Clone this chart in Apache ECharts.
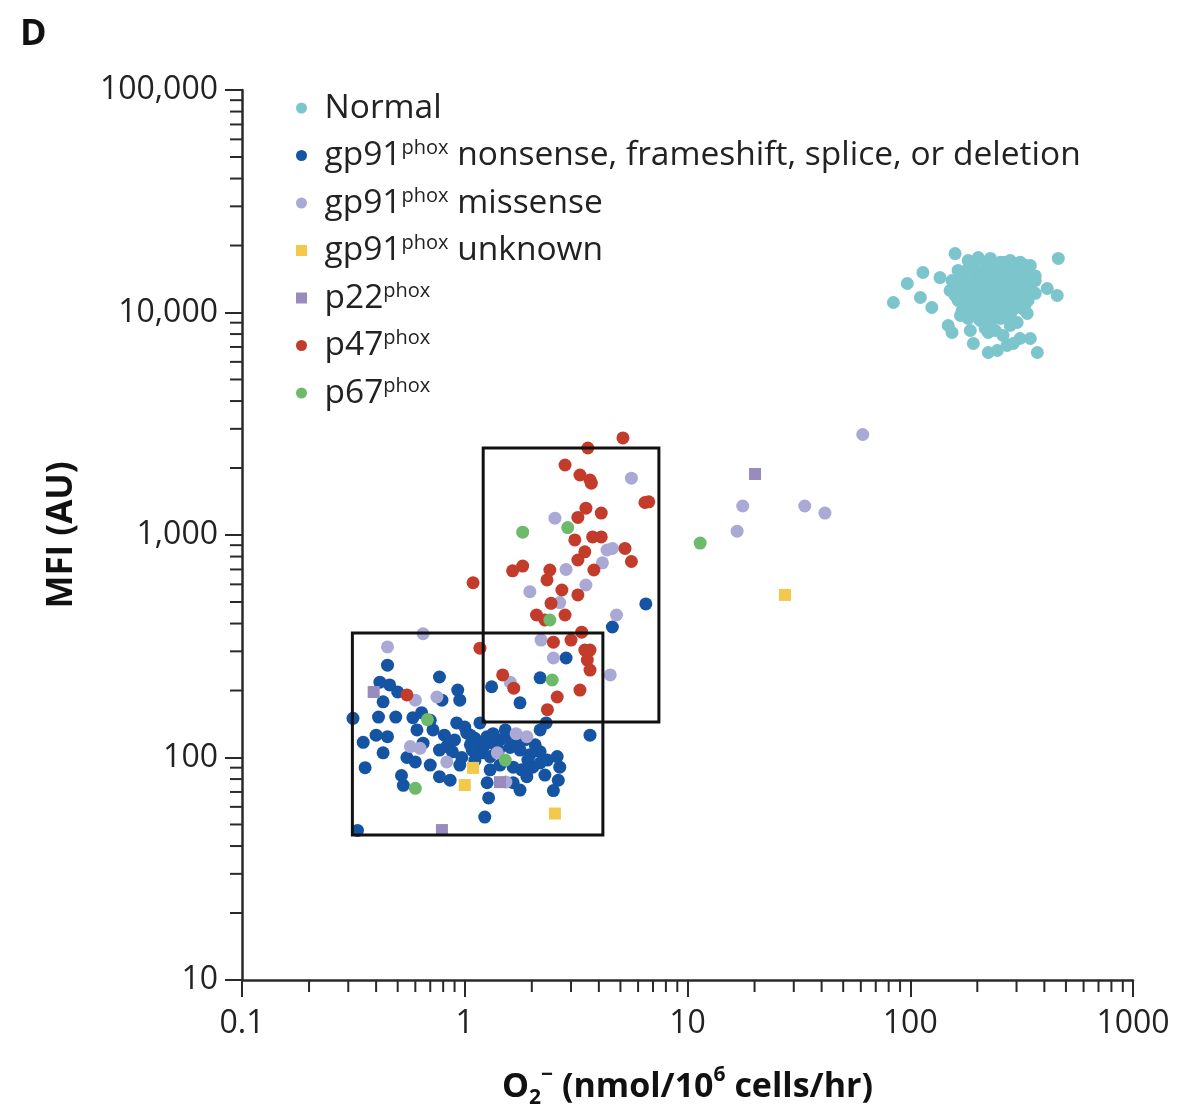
<!DOCTYPE html>
<html>
<head>
<meta charset="utf-8">
<script src="https://cdn.jsdelivr.net/npm/echarts@6/dist/echarts.min.js"></script>
<style>
html,body{margin:0;padding:0;background:#fff;}
#chart{width:1179px;height:1115px;}
</style>
</head>
<body>
<div id="chart"></div>
<script>
// ---------------- data (x = O2- nmol/10^6 cells/hr, y = MFI AU) ----------------
const normalData = [
  [182,17130],[202,17670],[229,17500],[254,16800],[281,17130],[312,16800],[346,16260],
  [164,15450],[182,15770],[206,15130],[229,15770],[254,15450],[281,15770],[312,15130],[346,14660],
  [154,13920],[171,14360],[192,13920],[217,14210],[241,13500],[267,14210],[296,13920],[328,13500],[364,13920],
  [151,12560],[168,12300],[186,12820],[206,12560],[229,12300],[254,12820],[281,12560],[312,12300],[346,12560],
  [164,11320],[182,11090],[202,11560],[224,11320],[248,11090],[275,11560],[305,11090],[338,11320],
  [171,10210],[190,10420],[210,10210],[233,10000],[259,10420],[287,10210],[318,10420],
  [182,9398],[206,9205],[229,9017],[254,9398],[281,9694],
  [217,8475],[241,8300],
  [192,16500],[217,16700],[241,16400],[267,16800],[296,16500],[328,16300],
  [173,14970],[196,15100],[217,14800],[241,15000],[267,14900],[296,15200],[328,14800],[364,14600],
  [162,13360],[180,13200],[202,13500],[229,13300],[254,13400],[281,13200],[312,13450],[346,13250],
  [159,11920],[177,12050],[196,11800],[217,11950],[241,12100],[267,11850],[296,12000],[328,11900],[364,12200],
  [177,10750],[196,10600],[217,10900],[241,10700],[267,10800],[296,10650],[328,10850],
  [196,9694],[217,9600],[241,9800],[267,9550],
  [159,18400],[114,15130],[136,14360],[97,13500],[84,11090],[111,11680],[125,10530],
  [462,17500],[412,12820],[457,11920],[335,9897],[148,8740],[154,8130],[186,8300],
  [224,8130],[192,7256],[224,6610],[246,6750],[281,8740],[302,9017],[261,7880],
  [272,7108],[290,7256],[311,7640],[346,7640],[372,6610],[168,9694]
];
const gp91NonsenseData = [
  [0.45,260],[0.416,218],[0.46,212],[0.50,197],[0.77,230],[0.79,181],[0.93,201],[0.95,181],
  [0.43,178],[0.315,150],[0.41,152],[0.585,151],[0.64,159],[0.70,147],[0.72,133],[0.92,143],
  [1.0,137],[1.02,129],[1.17,143],[0.40,126],[0.45,124],[0.43,105],[0.357,90],[0.65,116],
  [0.55,100],[0.60,95.5],[0.77,108],[0.83,112],[0.88,106],[0.97,100],[1.17,116],[1.26,124],
  [1.34,128],[1.44,120],[1.53,124],[1.6,111],[1.2,105],[1.3,101],[2.18,133],[2.32,143],
  [1.77,176],[1.32,208],[1.65,90.5],[1.8,88],[1.9,82],[2.02,90.5],[2.18,94.5],[2.18,106],
  [2.6,101],[2.67,90.5],[2.63,79],[2.5,71],[3.65,126],[0.77,82],[0.86,79],[0.52,83],
  [0.53,75],[1.26,77],[1.28,65.8],[1.65,77],[1.23,54],[0.33,47],[2.18,228],[2.85,280],
  [4.6,386],[6.5,490],[1.06,114],[1.11,122],[1.37,114],[1.77,108],[1.86,120],[1.96,103],
  [1.44,92.5],[0.95,92.5],[1.11,97],[0.70,92.5],[2.29,83.4],[1.77,71.4],
  [1.08,108],[1.23,114],[1.42,108],[1.52,133],[1.68,114],[1.92,97.4],[1.3,88],[1.06,126],
  [0.9,120],[0.81,126],[2.07,114],[2.35,97.4],[0.61,133],[0.49,152],[0.35,117]
];
const gp91MissenseData = [
  [0.45,314],[0.60,181],[0.75,187],[0.57,112],[0.63,110],[0.83,95.5],[1.4,105],[1.7,128],
  [1.9,124],[1.53,77.6],[0.65,360],[1.6,218],[4.5,235],[5.6,1800],[2.54,1190],[4.35,856],
  [4.6,870],[4.15,750],[2.85,700],[3.5,596],[1.96,556],[2.67,497],[4.8,437],[2.2,337],
  [2.5,280],[61.2,2830],[17.7,1350],[33.6,1350],[41.4,1255],[16.7,1040]
];
const gp91UnknownData = [[1.09,89.8],[1.0,75.2],[2.54,56],[27.4,538]];
const p22Data = [[0.39,197],[1.44,77.5],[0.79,47.2],[20.1,1880]];
const p47Data = [
  [0.55,191],[1.17,310],[1.48,235],[1.66,205],[3.29,201],[2.6,187],[2.35,164],
  [3.35,366],[2.5,330],[3.0,337],[3.46,304],[3.65,304],[3.55,274],[3.65,247],
  [5.13,2730],[3.57,2460],[2.82,2064],[3.29,1861],[3.65,1767],[3.7,1710],[6.44,1400],[6.7,1410],
  [3.22,1200],[3.5,1320],[4.1,1255],[3.12,950],[3.75,980],[4.1,980],[5.24,870],[5.6,760],
  [3.46,840],[3.22,772],[1.64,690],[1.82,725],[2.41,696],[2.34,628],[3.8,696],[1.09,610],
  [3.22,538],[2.73,566],[2.44,493],[2.1,437],[2.29,415],[2.82,437]
];
const p67Data = [[0.68,148],[1.52,97.4],[0.6,72.7],[2.47,223],[1.82,1030],[2.9,1080],[2.41,415],[11.4,920]];

// gated regions [xMin, yMin, xMax, yMax]
const gateBoxes = [[0.313,44.9,4.17,363],[1.21,144.5,7.44,2460]];

// axis ticks
const xMinorTicks = [0.2,0.3,0.4,0.5,0.6,0.7,0.8,0.9, 2,3,4,5,6,7,8,9, 20,30,40,50,60,70,80,90, 200,300,400,500,600,700,800,900];
const yMinorTicks = [20,30,40,50,60,70,80,90, 200,300,400,500,600,700,800,900, 2000,3000,4000,5000,6000,7000,8000,9000, 20000,30000,40000,50000,60000,70000,80000,90000];

const seriesNames = ['Normal','gp91 nonsense','gp91 missense','gp91 unknown','p22','p47','p67'];
const legendLabels = {
  'Normal': 'Normal',
  'gp91 nonsense': 'gp91{sup|phox} nonsense, frameshift, splice, or deletion',
  'gp91 missense': 'gp91{sup|phox} missense',
  'gp91 unknown': 'gp91{sup|phox} unknown',
  'p22': 'p22{sup|phox}',
  'p47': 'p47{sup|phox}',
  'p67': 'p67{sup|phox}'
};
const colors = ['#7cc5cc','#1553a3','#aaa8d4','#f2c94a','#9a8bbd','#c23b2b','#6cba6a'];
const symbols = ['circle','circle','circle','rect','rect','circle','circle'];
const datasets = [normalData,gp91NonsenseData,gp91MissenseData,gp91UnknownData,p22Data,p47Data,p67Data];

const FONT = 'Open Sans';
const AXIS_COLOR = '#2a2a2a';
const SQUARE_ICON = 'path://M0,0L10,0L10,10L0,10Z';

const chart = echarts.init(document.getElementById('chart'));

const scatterSeries = seriesNames.map((n, i) => ({
  name: n,
  type: 'scatter',
  data: datasets[i],
  symbol: symbols[i],
  symbolSize: symbols[i] === 'rect' ? 12 : 13,
  itemStyle: { color: colors[i], opacity: 1 },
  z: 3 + i,
  emphasis: { disabled: true }
}));

const minorX = {
  type: 'custom', silent: true, clip: false, z: 10,
  data: xMinorTicks.map(v => [v, 10]),
  encode: { x: 0, y: 1 },
  renderItem: (params, api) => {
    const p = api.coord([api.value(0), api.value(1)]);
    return { type: 'line', shape: { x1: p[0], y1: p[1], x2: p[0], y2: p[1] + 12 },
      style: { stroke: AXIS_COLOR, lineWidth: 2 } };
  }
};
const minorY = {
  type: 'custom', silent: true, clip: false, z: 10,
  data: yMinorTicks.map(v => [0.1, v]),
  encode: { x: 0, y: 1 },
  renderItem: (params, api) => {
    const p = api.coord([api.value(0), api.value(1)]);
    return { type: 'line', shape: { x1: p[0], y1: p[1], x2: p[0] - 12, y2: p[1] },
      style: { stroke: AXIS_COLOR, lineWidth: 2 } };
  }
};
const boxes = {
  type: 'custom', silent: true, clip: false, z: 20,
  data: gateBoxes,
  encode: { x: [0, 2], y: [1, 3] },
  renderItem: (params, api) => {
    const a = api.coord([api.value(0), api.value(1)]);
    const b = api.coord([api.value(2), api.value(3)]);
    return { type: 'rect',
      shape: { x: Math.min(a[0], b[0]), y: Math.min(a[1], b[1]), width: Math.abs(b[0] - a[0]), height: Math.abs(b[1] - a[1]) },
      style: { fill: 'none', stroke: '#111', lineWidth: 3 } };
  }
};

chart.setOption({
  animation: false,
  backgroundColor: '#fff',
  textStyle: { fontFamily: FONT },
  title: {
    text: 'D', left: 15, top: 12,
    textStyle: { fontSize: 36, fontWeight: 'bold', color: '#111', fontFamily: FONT }
  },
  grid: { left: 242, right: 46, top: 90, bottom: 135, containLabel: false },
  legend: {
    data: seriesNames.map((n, i) => symbols[i] === 'rect' ? { name: n, icon: SQUARE_ICON } : { name: n, icon: 'circle' }),
    orient: 'vertical',
    left: 291, top: 85,
    itemWidth: 36, itemHeight: 11,
    itemGap: 11.5,
    symbolKeepAspect: true,
    selectedMode: false,
    formatter: name => legendLabels[name],
    textStyle: {
      fontSize: 33.5, lineHeight: 36, color: '#222', fontFamily: FONT,
      rich: { sup: { fontSize: 20, lineHeight: 36, verticalAlign: 'top', color: '#222', fontFamily: FONT, padding: [1, 0, 0, 0] } }
    }
  },
  xAxis: {
    type: 'log', logBase: 10, min: 0.1, max: 1000,
    axisLine: { show: true, onZero: false, lineStyle: { color: AXIS_COLOR, width: 2.5 } },
    axisTick: { show: true, length: 17, lineStyle: { color: AXIS_COLOR, width: 2 } },
    axisLabel: { fontSize: 32, color: '#222', margin: 28, fontFamily: FONT,
      formatter: v => String(+Number(v).toPrecision(3)) },
    splitLine: { show: false },
    name: 'O{sub|2}{sup|−} (nmol/10{sup|6} cells/hr)',
    nameLocation: 'middle', nameGap: 85,
    nameTextStyle: { fontSize: 34, fontWeight: 'bold', color: '#111', fontFamily: FONT, lineHeight: 44,
      rich: {
        sub: { fontSize: 21, fontWeight: 'bold', verticalAlign: 'bottom', lineHeight: 44, fontFamily: FONT, color: '#111' },
        sup: { fontSize: 21, fontWeight: 'bold', verticalAlign: 'top', lineHeight: 44, fontFamily: FONT, color: '#111' }
      } }
  },
  yAxis: {
    type: 'log', logBase: 10, min: 10, max: 100000,
    axisLine: { show: true, onZero: false, lineStyle: { color: AXIS_COLOR, width: 2.5 } },
    axisTick: { show: true, length: 17, lineStyle: { color: AXIS_COLOR, width: 2 } },
    axisLabel: { fontSize: 32, color: '#222', margin: 24, fontFamily: FONT,
      formatter: v => Math.round(v).toLocaleString('en-US') },
    splitLine: { show: false },
    name: 'MFI (AU)',
    nameLocation: 'middle', nameGap: 162,
    nameTextStyle: { fontSize: 35, fontWeight: 'bold', color: '#111', fontFamily: FONT }
  },
  series: [...scatterSeries, minorX, minorY, boxes]
});
</script>
</body>
</html>
